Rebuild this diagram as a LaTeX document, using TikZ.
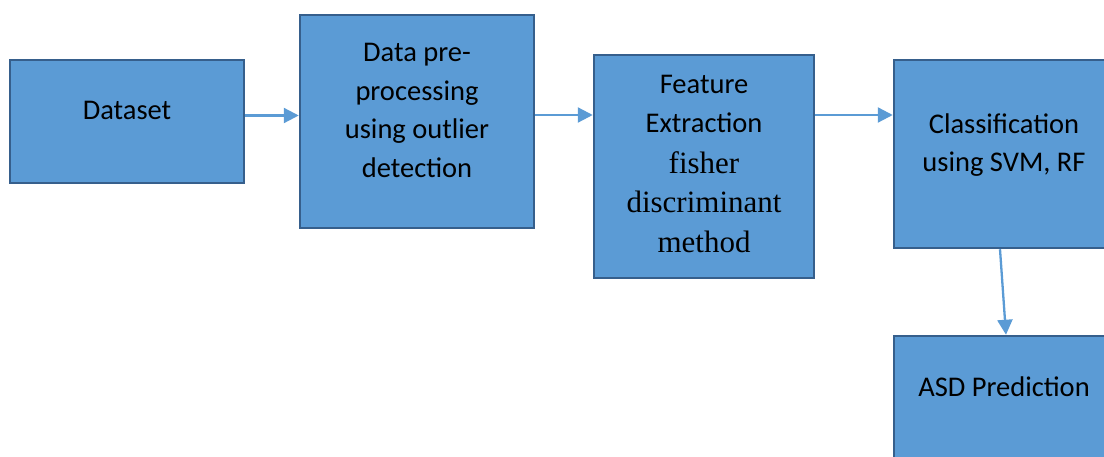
\documentclass[tikz,border=0pt]{standalone}
\usepackage{fontspec}
\setmainfont{Carlito}
\newfontfamily\tnr{Liberation Serif}
\usetikzlibrary{arrows.meta}
\definecolor{boxfill}{HTML}{5B9BD5}
\definecolor{boxline}{HTML}{365F8C}
\definecolor{arrcol}{HTML}{5B9BD5}
\tikzset{
  box/.style={draw=boxline, fill=boxfill, line width=2.5pt, rectangle, inner sep=0pt},
  txt/.style={align=center, inner sep=0pt, font=\fontsize{28.5}{38.7}\selectfont},
  serif/.style={align=center, inner sep=0pt, font=\tnr\fontsize{31}{39.3}\selectfont},
  arr/.style={draw=arrcol, line width=2.3pt, -{Triangle[length=15pt,width=15pt]}}
}
\begin{document}
\begin{tikzpicture}[x=1pt,y=-1pt]
\clip (0,0) rectangle (1104,457);
\useasboundingbox (0,0) rectangle (1104,457);
% boxes
\node[box, minimum width=234pt, minimum height=123pt] (d) at (127,121.5) {};
\node[box, minimum width=234pt, minimum height=213pt] (p) at (417,121.5) {};
\node[box, minimum width=220pt, minimum height=223pt] (f) at (704,166.5) {};
\node[box, minimum width=220pt, minimum height=188pt] (c) at (1004,154) {};
\node[box, minimum width=220pt, minimum height=188pt] (a) at (1004,430) {};
% texts
\node[txt] (dt) at (127,110.5) {Dataset};
\node[txt] (pt) at (417,110.5) {Data pre-\\processing\\using outlier\\detection};
\node[txt] (ft) at (704,104) {Feature\\Extraction};
\node[serif] (fs) at (704,202) {fisher\\discriminant\\method};
\node[txt] (ct) at (1004,145) {Classification\\using SVM, RF};
\node[txt] (at) at (1004,387) {ASD Prediction};
% connectors
\draw[arr] ([yshift=6pt]d.east) -- ([yshift=6pt]p.west);
\draw[arr] ([yshift=6.5pt]p.east) -- ([yshift=6.5pt]p.east -| f.west);
\draw[arr] ([yshift=51.5pt]f.east) -- ([yshift=51.5pt]f.east -| c.west);
\draw[arr] ([xshift=-4pt]c.south) -- ([xshift=2pt]a.north);
\end{tikzpicture}
\end{document}
